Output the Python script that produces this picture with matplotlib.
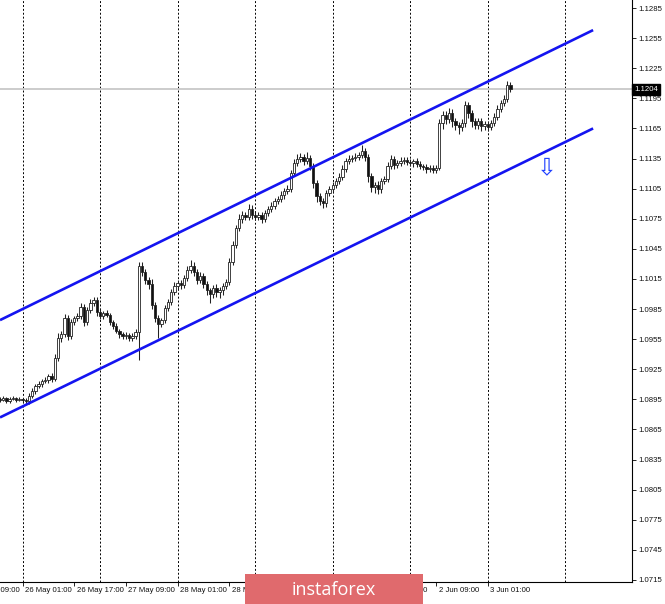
import matplotlib
matplotlib.use("Agg")
import matplotlib.pyplot as plt
from matplotlib.patches import Rectangle
from matplotlib.transforms import blended_transform_factory, ScaledTranslation

# ---------------- data (EURUSD H1) ----------------
first_open = 1.0895
closes = [
    1.0894, 1.0896, 1.0893, 1.0895, 1.0896, 1.0894, 1.0895, 1.0894, 1.0893, 1.0898,
    1.0903, 1.0908, 1.0910, 1.0913, 1.0914, 1.0918, 1.0915, 1.0936, 1.0956, 1.0960,
    1.0976, 1.0958, 1.0972, 1.0976, 1.0978, 1.0987, 1.0972, 1.0984, 1.0991, 1.0994,
    1.0982, 1.0978, 1.0981, 1.0979, 1.0972, 1.0968, 1.0963, 1.0960, 1.0958, 1.0959,
    1.0956, 1.0958, 1.0962, 1.1028, 1.1022, 1.1014, 1.1010, 1.0989, 1.0976, 1.0970,
    1.0974, 1.0986, 1.0992, 1.1002, 1.1008, 1.1011, 1.1009, 1.1016, 1.1024, 1.1028,
    1.1022, 1.1014, 1.1018, 1.1010, 1.1004, 1.1000, 1.1006, 1.1002, 1.1004, 1.1008,
    1.1012, 1.1032, 1.1049, 1.1066, 1.1075, 1.1079, 1.1077, 1.1085, 1.1079, 1.1077,
    1.1079, 1.1075, 1.1081, 1.1085, 1.1088, 1.1093, 1.1095, 1.1099, 1.1103, 1.1105,
    1.1121, 1.1131, 1.1135, 1.1137, 1.1133, 1.1136, 1.1128, 1.1111, 1.1098, 1.1093,
    1.1091, 1.1101, 1.1105, 1.1109, 1.1113, 1.1117, 1.1125, 1.1133, 1.1135, 1.1136,
    1.1137, 1.1139, 1.1143, 1.1137, 1.1118, 1.1107, 1.1109, 1.1105, 1.1113, 1.1115,
    1.1128, 1.1135, 1.1129, 1.1131, 1.1133, 1.1134, 1.1132, 1.1131, 1.1133, 1.1130,
    1.1128, 1.1127, 1.1125, 1.1126, 1.1124, 1.1126, 1.1170, 1.1178, 1.1174, 1.1180,
    1.1172, 1.1168, 1.1166, 1.1170, 1.1188, 1.1180, 1.1172, 1.1168, 1.1172, 1.1167,
    1.1169, 1.1166, 1.1170, 1.1176, 1.1184, 1.1190, 1.1194, 1.1208, 1.1204,
]
upper_wick_pips = [
    2, 2, 1, 2, 2, 1, 2, 1, 2, 3,
    3, 2, 3, 2, 3, 2, 3, 4, 5, 3,
    4, 3, 3, 2, 3, 4, 3, 3, 4, 3,
    3, 3, 2, 3, 2, 2, 3, 2, 2, 3,
    2, 3, 3, 4, 4, 3, 3, 5, 3, 3,
    2, 3, 3, 3, 4, 3, 3, 3, 4, 6,
    4, 3, 4, 3, 3, 2, 3, 4, 3, 3,
    3, 4, 4, 3, 5, 4, 3, 5, 4, 3,
    3, 3, 3, 3, 4, 3, 3, 4, 3, 4,
    3, 4, 5, 4, 3, 6, 3, 3, 3, 3,
    3, 3, 3, 3, 3, 4, 4, 3, 4, 3,
    4, 3, 5, 3, 3, 3, 3, 4, 3, 3,
    4, 4, 3, 3, 4, 3, 3, 3, 2, 3,
    3, 2, 3, 3, 3, 3, 4, 4, 4, 5,
    4, 3, 3, 4, 4, 3, 3, 3, 3, 3,
    3, 3, 3, 4, 4, 3, 4, 4, 3,
]
lower_wick_pips = [
    2, 1, 2, 2, 1, 2, 1, 2, 3, 3,
    2, 3, 2, 3, 2, 3, 3, 2, 3, 4,
    3, 4, 3, 3, 3, 3, 4, 3, 3, 3,
    4, 3, 3, 2, 3, 3, 2, 4, 3, 3,
    3, 3, 3, 28, 4, 4, 5, 4, 4, 14,
    3, 3, 3, 3, 3, 3, 4, 3, 3, 3,
    4, 4, 3, 4, 5, 9, 4, 5, 6, 5,
    3, 3, 3, 3, 3, 4, 3, 3, 4, 3,
    3, 4, 3, 3, 3, 3, 3, 3, 4, 3,
    3, 3, 3, 3, 4, 3, 4, 5, 6, 4,
    5, 4, 3, 3, 3, 3, 3, 3, 3, 3,
    3, 3, 3, 4, 6, 5, 6, 5, 4, 3,
    3, 3, 4, 3, 3, 3, 3, 3, 4, 3,
    3, 3, 4, 3, 3, 3, 2, 6, 5, 4,
    6, 5, 7, 4, 4, 5, 6, 4, 4, 5,
    4, 4, 3, 3, 3, 3, 3, 3, 3,
]
assert len(closes) == len(upper_wick_pips) == len(lower_wick_pips)

price_ticks = [1.0715, 1.0745, 1.0775, 1.0805, 1.0835, 1.0865, 1.0895, 1.0925,
               1.0955, 1.0985, 1.1015, 1.1045, 1.1075, 1.1105, 1.1135, 1.1165,
               1.1195, 1.1225, 1.1255, 1.1285]
time_label_pos = [-9, 7, 23, 39, 55, 71, 87, 103, 119, 135, 151]
time_labels = ["25 May 09:00", "26 May 01:00", "26 May 17:00", "27 May 09:00",
               "28 May 01:00", "28 May 17:00", "29 May 09:00", "1 Jun 01:00",
               "1 Jun 17:00", "2 Jun 09:00", "3 Jun 01:00"]
grid_pos = [7, 31, 55, 79, 103, 127, 151, 175]

upper_channel_x = [0.04, 183.6]
upper_channel_y = [1.0974, 1.1263]
lower_channel_x = [0.04, 183.6]
lower_channel_y = [1.0877, 1.1165]
current_price = 1.1204
arrow_x, arrow_y = 169.3, 1.1126

# ---------------- figure ----------------
W, H = 665, 604
fig = plt.figure(figsize=(W / 100, H / 100), dpi=100)
fig.patch.set_facecolor("white")
ax = fig.add_axes([0, 22 / H, 632 / W, 582 / H])
ax.set_xlim(0.036, 195.64)
ax.set_ylim(1.0713, 1.1293)

# grid
for g in grid_pos:
    ax.axvline(g, color="black", lw=0.7, ls=(0, (2, 2)), zorder=1)

# current price line
ax.axhline(current_price, color="#c8c8c8", lw=1.3, zorder=1.5)

# candles
opens = [first_open] + closes[:-1]
for i, (o, c, uw, lw_) in enumerate(zip(opens, closes, upper_wick_pips, lower_wick_pips)):
    hi = max(o, c) + uw * 1e-4
    lo = min(o, c) - lw_ * 1e-4
    ax.vlines(i, lo, hi, color="#222222", lw=0.75, zorder=2)
    bottom = min(o, c)
    h = max(abs(c - o), 0.00005)
    ax.add_patch(Rectangle((i - 0.36, bottom), 0.72, h,
                           facecolor="white" if c >= o else "#111111",
                           edgecolor="#222222", lw=0.6, zorder=3))

# channel
ax.plot(upper_channel_x, upper_channel_y, color="#1414f0", lw=1.9, zorder=4,
        solid_capstyle="butt")
ax.plot(lower_channel_x, lower_channel_y, color="#1414f0", lw=1.9, zorder=4,
        solid_capstyle="butt")

# arrow
ax.text(arrow_x, arrow_y, "\u21e9", color="#2040ff", fontsize=17,
        ha="center", va="center", family="DejaVu Sans", zorder=5)

# spines
for s in ["left", "top"]:
    ax.spines[s].set_visible(False)
for s in ["right", "bottom"]:
    ax.spines[s].set_linewidth(0.8)
    ax.spines[s].set_color("black")

tick_font = dict(family="Liberation Sans", size=5.6)
ax.yaxis.tick_right()
ax.set_yticks(price_ticks)
ax.set_yticklabels([f"{p:.4f}" for p in price_ticks], fontdict=tick_font, color="#111111")
ax.tick_params(axis="y", length=3, width=0.6, pad=1.5, direction="out")

ax.set_xticks([p for p in time_label_pos if p > 0])
ax.set_xticklabels([])
ax.tick_params(axis="x", length=3, width=0.6, direction="out")

trans = ax.get_xaxis_transform() + ScaledTranslation(2.5 / 100, -5 / 100, fig.dpi_scale_trans)
for p, lab in zip(time_label_pos, time_labels):
    ax.text(p, 0, lab, transform=trans, ha="left", va="top", clip_on=False,
            fontdict=tick_font, color="#111111")

# current price tag
bt = blended_transform_factory(ax.transAxes, ax.transData)
ax.text(1.003, current_price, f"{current_price:.4f}", transform=bt, ha="left", va="center",
        fontdict=tick_font, color="white", zorder=10, clip_on=False,
        bbox=dict(boxstyle="square,pad=0.25", facecolor="black", edgecolor="black"))

# watermark
fig.patches.append(Rectangle((245 / W, 0), 178 / W, 30 / H, transform=fig.transFigure,
                             facecolor="#e06a6d", edgecolor="none", zorder=20))
fig.text(334 / W, 14 / H, "instaforex", color="white", fontsize=13,
         family="Open Sans", ha="center", va="center", zorder=21)

fig.savefig("out.png", dpi=100, facecolor="white")
